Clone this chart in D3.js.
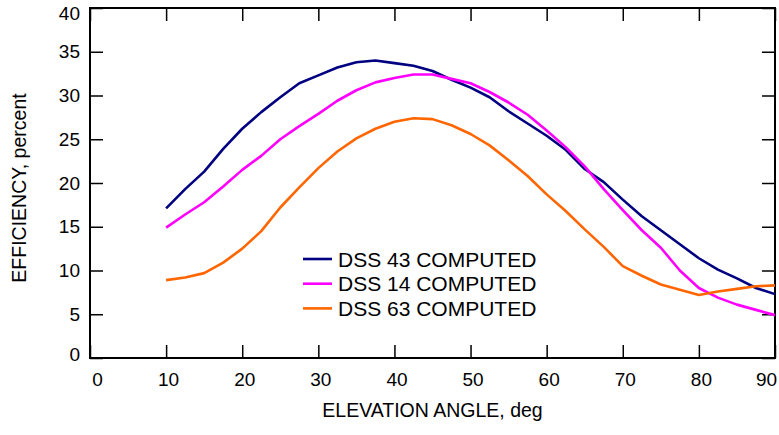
<!DOCTYPE html>
<meta charset="utf-8">
<script src="https://d3js.org/d3.v7.min.js"></script>
<style>
  body { margin: 0; background: #fff; }
  text { font-family: "Liberation Sans", Arial, sans-serif; fill: #000; }
  .line { fill: none; stroke-width: 2.6; stroke-linejoin: round; }
</style>
<div id="chart"></div>
<script>
// elevation angles (deg)
const angles = [10, 12.5, 15, 17.5, 20, 22.5, 25, 27.5, 30, 32.5, 35, 37.5, 40, 42.5, 45,
  47.5, 50, 52.5, 55, 57.5, 60, 62.5, 65, 67.5, 70, 72.5, 75, 77.5, 80, 82.5, 85, 87.5, 90];

// efficiency, percent
const dss43 = [17.1, 19.3, 21.3, 23.9, 26.2, 28.1, 29.8, 31.4, 32.3, 33.2, 33.8, 34.0, 33.7, 33.4, 32.8,
  31.8, 30.9, 29.8, 28.2, 26.8, 25.4, 23.8, 21.6, 20.1, 18.1, 16.2, 14.6, 13.0, 11.4, 10.1, 9.1, 8.0, 7.3];
const dss14 = [14.9, 16.4, 17.8, 19.6, 21.5, 23.1, 25.0, 26.5, 27.9, 29.4, 30.6, 31.5, 32.0, 32.4, 32.4,
  31.9, 31.4, 30.4, 29.2, 27.8, 26.0, 24.1, 21.9, 19.3, 16.9, 14.6, 12.6, 10.0, 8.0, 6.9, 6.1, 5.5, 4.9];
const dss63 = [8.9, 9.2, 9.7, 10.9, 12.5, 14.5, 17.2, 19.5, 21.7, 23.6, 25.1, 26.2, 27.0, 27.4, 27.3,
  26.6, 25.6, 24.3, 22.6, 20.8, 18.7, 16.8, 14.7, 12.7, 10.5, 9.4, 8.4, 7.8, 7.2, 7.6, 7.9, 8.2, 8.3];

const seriesNames = ["DSS 43 COMPUTED", "DSS 14 COMPUTED", "DSS 63 COMPUTED"];
const seriesColors = ["#000080", "#ff00ff", "#ff6600"];
const xTicks = [0, 10, 20, 30, 40, 50, 60, 70, 80, 90];
const yTicks = [0, 5, 10, 15, 20, 25, 30, 35, 40];

const margin = {top: 8, right: 4, bottom: 77, left: 90},
  width = 779 - margin.left - margin.right,
  height = 435 - margin.top - margin.bottom;

const svg = d3.select("#chart").append("svg")
    .attr("width", 779).attr("height", 435)
  .append("g")
    .attr("transform", "translate(" + margin.left + "," + margin.top + ")");

const x = d3.scaleLinear().domain([0, 90]).range([0, width]);
const y = d3.scaleLinear().domain([0, 40]).range([height, 0]);

// axes, ticks pointing inward on all four sides
const bottom = svg.append("g")
  .attr("transform", "translate(0," + height + ")")
  .call(d3.axisBottom(x).tickValues(xTicks).tickSize(-13).tickSizeOuter(0).tickPadding(15));
const left = svg.append("g")
  .call(d3.axisLeft(y).tickValues(yTicks).tickSize(-13).tickSizeOuter(0).tickPadding(10));
svg.append("g")
  .call(d3.axisTop(x).tickValues(xTicks).tickSize(-13).tickSizeOuter(0).tickFormat(""));
svg.append("g")
  .attr("transform", "translate(" + width + ",0)")
  .call(d3.axisRight(y).tickValues(yTicks).tickSize(-13).tickSizeOuter(0).tickFormat(""));

svg.selectAll(".domain").remove();
svg.selectAll(".tick line").attr("stroke", "#000").attr("stroke-width", 1.5);
svg.selectAll(".tick text").style("font-size", "19px").attr("font-family", null);

// nudge the end labels inward like the original
left.selectAll(".tick text").attr("y", d => d === 40 ? 5 : d === 0 ? -4 : 0);
bottom.selectAll(".tick text").attr("x", d => d === 0 ? 7 : d === 90 ? -9 : 2);

// frame
svg.append("rect")
  .attr("width", width).attr("height", height)
  .attr("fill", "none").attr("stroke", "#000").attr("stroke-width", 2);

// lines
const allSeries = [dss43, dss14, dss63];
const line = d3.line()
  .x((d, i) => x(angles[i]))
  .y(d => y(d));

svg.selectAll(".line")
  .data(allSeries)
  .enter().append("path")
    .attr("class", "line")
    .attr("stroke", (d, i) => seriesColors[i])
    .attr("d", line);

// legend
const legend = svg.selectAll(".legend")
  .data(seriesNames)
  .enter().append("g")
    .attr("transform", (d, i) => "translate(213," + (251 + i * 24.7) + ")");
legend.append("line")
  .attr("x1", 0).attr("x2", 29)
  .attr("stroke", (d, i) => seriesColors[i])
  .attr("stroke-width", 2.6);
legend.append("text")
  .attr("x", 35).attr("dy", "0.36em")
  .style("font-size", "21px")
  .text(d => d);

// axis titles
svg.append("text")
  .attr("x", width / 2).attr("y", height + 59)
  .attr("text-anchor", "middle")
  .style("font-size", "19.5px")
  .text("ELEVATION ANGLE, deg");

svg.append("text")
  .attr("transform", "rotate(-90)")
  .attr("x", -height / 2 - 5).attr("y", -64)
  .attr("text-anchor", "middle")
  .style("font-size", "19.5px")
  .text("EFFICIENCY, percent");
</script>
